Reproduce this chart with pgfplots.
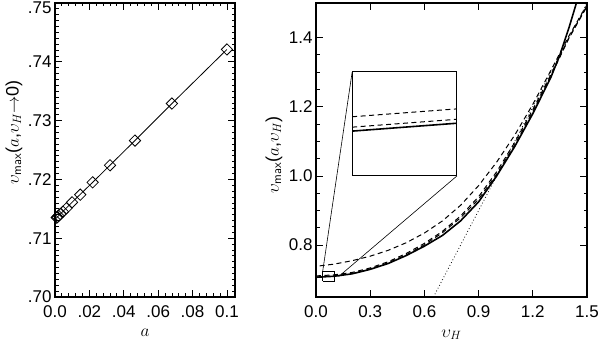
\documentclass[border=0pt]{standalone}
\usepackage{fontspec}
\setmainfont{Liberation Sans}
\usepackage{pgfplots}
\pgfplotsset{compat=1.18}

\pgfplotsset{
  idl/.style={
    scale only axis,
    axis line style={line width=1.1pt},
    every tick/.style={black, line width=0.8pt},
    major tick length=7pt,
    minor tick length=3.5pt,
    tick label style={font=\fontsize{17}{19}\selectfont},
    label style={font=\fontsize{18}{20}\selectfont},
    xticklabel style={yshift=-5.5pt},
  },
  solidc/.style={black, line width=1.6pt},
  dashc/.style={black, line width=1pt, dash pattern=on 5pt off 3.5pt},
}

\begin{document}
\begin{tikzpicture}
\path[use as bounding box] (0,0) rectangle (600pt,342pt);

% left panel: vmax at vH -> 0 against a
\begin{axis}[idl,
    at={(55pt,45pt)}, anchor=south west,
    width=180pt, height=294pt,
    xmin=0, xmax=0.1047, ymin=0.70, ymax=0.75,
    xtick={0,0.02,0.04,0.06,0.08,0.1},
    xticklabels={0.0,.02,.04,.06,.08,0.1},
    minor x tick num=4,
    ytick={0.70,0.71,0.72,0.73,0.74,0.75},
    yticklabels={.70,.71,.72,.73,.74,\smash{\raisebox{-11pt}{.75}}},
    minor y tick num=9,
    xlabel={$a$},
    xlabel style={at={(axis description cs:0.5,-0.122)}, anchor=center},
    ylabel={$\upsilon_{\mathsf{max}}$($a$,$\upsilon_{H}$$\rightarrow$0)},
    ylabel style={at={(axis description cs:-0.228,0.56)}, anchor=center},
]
\addplot[black, line width=0.8pt] coordinates {
  (0,0.7132) (0.0010,0.7135) (0.0031,0.7141) (0.0099,0.7161)
  (0.0219,0.7195) (0.0465,0.7266) (0.068,0.7329) (0.1,0.7421)
};
\addplot[black, only marks, mark=square, mark size=4pt,
         mark options={rotate=45, line width=0.8pt, fill=white}] coordinates {
  (0.1,0.7421) (0.068,0.7329) (0.0465,0.7266) (0.032,0.7224)
  (0.0219,0.7195) (0.0147,0.7174) (0.0099,0.7161) (0.0067,0.7151)
  (0.0046,0.7145) (0.0031,0.7141) (0.0021,0.7138) (0.0014,0.7136)
  (0.0010,0.7135)
};
\end{axis}

% right panel: vmax against vH
\begin{axis}[idl,
    at={(316pt,45pt)}, anchor=south west,
    width=271pt, height=294pt,
    xmin=0, xmax=1.5, ymin=0.65, ymax=1.5,
    xtick={0,0.3,0.6,0.9,1.2,1.5},
    xticklabels={0.0,0.3,0.6,0.9,1.2,1.5},
    ytick={0.8,1.0,1.2,1.4},
    yticklabels={0.8,1.0,1.2,1.4},
    minor y tick num=3,
    xlabel={$\upsilon_{H}$},
    xlabel style={at={(axis description cs:0.5,-0.128)}, anchor=center},
    ylabel={$\upsilon_{\mathsf{max}}$($a$,$\upsilon_{H}$)},
    ylabel style={at={(axis description cs:-0.155,0.483)}, anchor=center},
]
% asymptote
\addplot[black, line width=0.8pt, dash pattern=on 0.8pt off 2.4pt] coordinates {
  (0.65,0.65) (1.5,1.5)
};
% outer dashed
\addplot[dashc] coordinates {
  (0.02,0.740) (0.1,0.745) (0.2,0.755) (0.3,0.768) (0.4,0.785)
  (0.5,0.807) (0.6,0.835) (0.7,0.870) (0.8,0.915) (0.9,0.972)
  (1.0,1.040) (1.1,1.118) (1.2,1.207) (1.3,1.305) (1.4,1.405) (1.5,1.495)
};
% middle dashed
\addplot[dashc] coordinates {
  (0.0,0.711) (0.1,0.714) (0.2,0.721) (0.3,0.734) (0.4,0.752)
  (0.5,0.776) (0.6,0.805) (0.7,0.840) (0.8,0.884) (0.9,0.940)
  (1.0,1.012) (1.1,1.097) (1.2,1.192) (1.3,1.293) (1.4,1.400) (1.5,1.492)
};
% inner dashed
\addplot[dashc] coordinates {
  (0.0,0.708) (0.1,0.711) (0.2,0.718) (0.3,0.731) (0.4,0.749)
  (0.5,0.772) (0.6,0.801) (0.7,0.836) (0.8,0.879) (0.9,0.933)
  (1.0,1.005) (1.1,1.090) (1.2,1.186) (1.3,1.289) (1.4,1.398) (1.5,1.490)
};
% solid
\addplot[solidc] coordinates {
  (0.0,0.707) (0.1,0.710) (0.2,0.717) (0.3,0.730) (0.4,0.747)
  (0.5,0.770) (0.6,0.797) (0.7,0.828) (0.8,0.870) (0.9,0.925)
  (1.0,1.000) (1.1,1.085) (1.2,1.180) (1.3,1.285) (1.35,1.350)
  (1.4,1.428) (1.45,1.515)
};
% zoom box and connecting lines
\addplot[black, line width=0.8pt] coordinates {
  (0.037,0.695) (0.1,0.695) (0.1,0.724) (0.037,0.724) (0.037,0.695)
};
\addplot[black, line width=0.6pt] coordinates {(0.037,0.724) (0.2,1.3)};
\addplot[black, line width=0.6pt] coordinates {(0.125,0.709) (0.78,1.0)};
\coordinate (insSW) at (axis cs:0.2,1.0);
\end{axis}

% inset: enlargement of the zoom box
\begin{axis}[
    at={(insSW)}, anchor=south west,
    scale only axis, width=104.8pt, height=104pt,
    xmin=0.037, xmax=0.1, ymin=0.695, ymax=0.724,
    ticks=none,
    axis line style={line width=1.1pt},
    axis background/.style={fill=white},
]
\addplot[dashc] coordinates {(0.037,0.7115) (0.1,0.7137)};
\addplot[dashc] coordinates {(0.037,0.7086) (0.1,0.7108)};
\addplot[solidc] coordinates {(0.037,0.7075) (0.1,0.7097)};
\end{axis}
\end{tikzpicture}
\end{document}
